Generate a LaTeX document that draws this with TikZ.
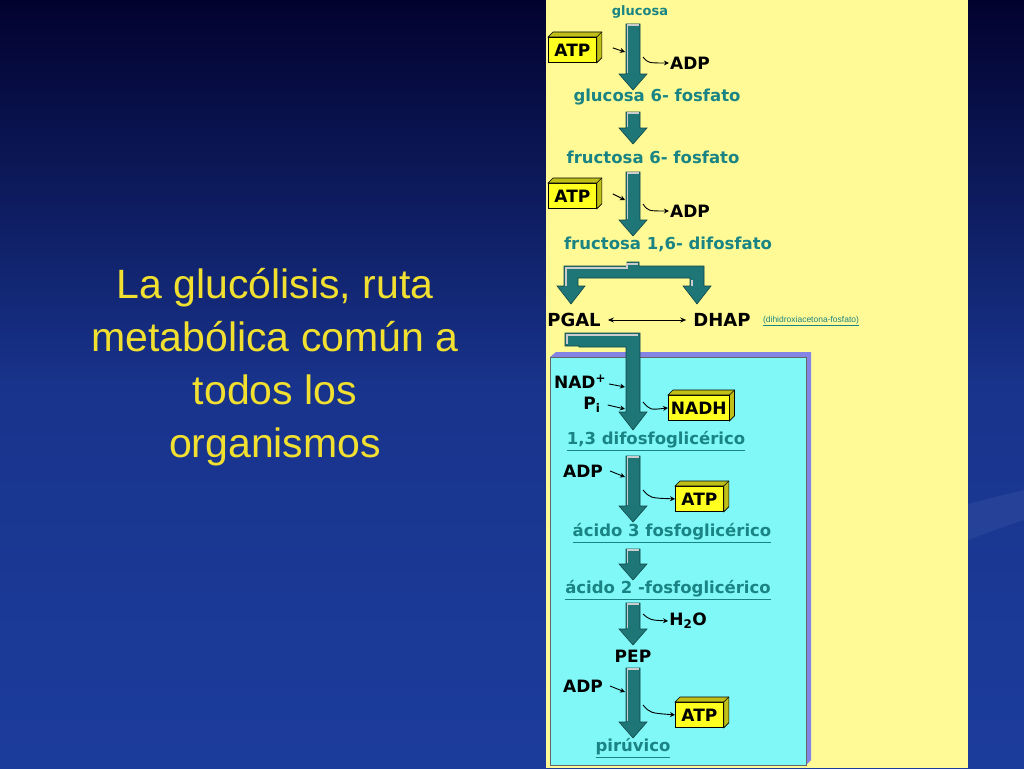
\documentclass[tikz,border=0pt]{standalone}
\usepackage{fontspec}
\setmainfont{Liberation Sans}
\newfontfamily\dv{DejaVu Sans}
\usetikzlibrary{arrows.meta}
\definecolor{bgtop}{HTML}{02022E}
\definecolor{bgbot}{HTML}{1C3C9C}
\definecolor{titley}{HTML}{F2E030}
\definecolor{panely}{HTML}{FFFA96}
\definecolor{panelc}{HTML}{80F8F8}
\definecolor{purp}{HTML}{8484E4}
\definecolor{arrteal}{HTML}{1E7676}
\definecolor{txtteal}{HTML}{1A8484}
\definecolor{boxy}{HTML}{FFFF20}
\newcommand\bigarr[3]{%
 \filldraw[fill=arrteal,draw=arrteal!60!black,line width=0.6] ({#1-7},{#2}) -- ({#1+7},{#2}) -- ({#1+7},{#3-16}) -- ({#1+14},{#3-16}) -- ({#1},{#3}) -- ({#1-14},{#3-16}) -- ({#1-7},{#3-16}) -- cycle;
 \draw[gray!40,line width=1.6] ({#1-5.5},{#3-17}) -- ({#1-5.5},{#2+1}) -- ({#1+6},{#2+1});}
\newcommand\tdbox[4]{%
 \node[box,anchor=north west] (#1) at (#2,#3) {#4};
 \filldraw[fill=boxy!75!black,draw=black,line width=0.6] (#1.north west) -- ++(5,-5) -- ([shift={(5,-5)}]#1.north east) -- ([shift={(5,-5)}]#1.south east) -- (#1.south east) -- (#1.north east) -- cycle;
 \draw[line width=0.6] (#1.north east) -- ++(5,-5);}
\tikzset{
 lab/.style={font=\dv\bfseries\fontsize{16.5}{18}\selectfont,text=txtteal,inner sep=1pt},
 ulab/.style={lab},
 blk/.style={font=\dv\bfseries\fontsize{17}{19}\selectfont,text=black,inner sep=1pt},
 box/.style={draw=black,line width=0.8,fill=boxy,font=\dv\bfseries\fontsize{17}{19}\selectfont,inner sep=2.5pt,minimum height=25,minimum width=48},
 sm/.style={-{Stealth[length=5,width=5]},line width=0.9},
 ttl/.style={text=titley,font=\fontsize{41}{53}\selectfont,align=center}
}
\newcommand\ul[1]{\underline{#1}}
\begin{document}
\begin{tikzpicture}[x=1pt,y=-1pt]
\useasboundingbox (0,0) rectangle (1024,768);
\shade[top color=bgtop,bottom color=bgbot,middle color=bgbot!85!bgtop] (0,0) rectangle (1024,768);
\fill[bgbot!80!white,opacity=0.25] (820,560) .. controls (900,520) and (980,500) .. (1024,490) -- (1024,520) .. controls (960,540) and (880,580) .. (820,600) -- cycle;
\node[ttl] (title) at (275,367) {La glucólisis, ruta\\metabólica común a\\todos los\\organismos};
% panels
\fill[panely] (546,0) rectangle (968,768);
\fill[purp] (556,352) -- (811,352) -- (811,760) -- (806,765) -- (806,357) -- (550,357) -- cycle;
\fill[panelc] (550,357) rectangle (806,765);
\draw[black!60,line width=0.6] (550,357) rectangle (806,765);
% top part
\node[lab,font=\dv\bfseries\fontsize{13}{15}\selectfont] (glu) at (640,12) {glucosa};
\bigarr{633}{24}{90}
\tdbox{atp1}{548}{37}{ATP}
\node[blk] (adp1) at (690,63) {ADP};
\coordinate (a1) at (625,52); \coordinate (b1) at (643,57);
\draw[sm] (atp1.east) ++(16,-2) -- (a1);
\draw[sm] (b1) .. controls (648,63) .. (adp1.west);
\node[lab] (g6p) at (657,97) {glucosa 6- fosfato};
\bigarr{633}{112}{144}
\node[lab] (f6p) at (653,157) {fructosa 6- fosfato};
\bigarr{633}{172}{236}
\tdbox{atp2}{548}{183}{ATP}
\node[blk] (adp2) at (690,211) {ADP};
\coordinate (a2) at (625,200); \coordinate (b2) at (643,204);
\draw[sm] (atp2.east) ++(16,-2) -- (a2);
\draw[sm] (b2) .. controls (648,211) .. (adp2.west);
\node[lab] (f16) at (668,244) {fructosa 1,6- difosfato};
% split
\filldraw[fill=arrteal,draw=arrteal!60!black,line width=0.6] (627,262) -- (639,262) -- (639,266) -- (704,266) -- (704,286) -- (711,286) -- (697,304) -- (683,286) -- (690,286) -- (690,278) -- (578,278) -- (578,286) -- (585,286) -- (571,304) -- (557,286) -- (564,286) -- (564,266) -- (627,266) -- cycle;
\draw[gray!40,line width=1.6] (566,286) -- (566,268) -- (627,268) -- (627,264) -- (638,264);
\draw[gray!40,line width=1.6] (692,286) -- (692,280);
\node[blk,font=\dv\bfseries\fontsize{18}{20}\selectfont] (pgal) at (574,320) {PGAL};
\node[blk,font=\dv\bfseries\fontsize{18}{20}\selectfont] (dhap) at (722,320) {DHAP};
\draw[{Stealth[length=6,width=5]}-{Stealth[length=6,width=5]},line width=0.9] (pgal.east) ++(6,0) -- ([xshift=-6]dhap.west);
\node[text=txtteal,font=\fontsize{8.5}{9}\selectfont,inner sep=1pt] (dhn) at (811,321) {\ul{(dihidroxiacetona-fosfato)}};
% PGAL pipe
\filldraw[fill=arrteal,draw=arrteal!60!black,line width=0.6] (565,346) -- (565,333) -- (640,333) -- (640,412) -- (647,412) -- (633,430) -- (619,412) -- (626,412) -- (626,347) -- (579,347) -- (579,346) -- cycle;
\draw[gray!40,line width=1.6] (567,344) -- (567,335) -- (638,335);
% cyan part
\node[blk] (nad) at (580,382) {NAD\textsuperscript{+}};
\node[blk] (pi) at (592,405) {P\textsubscript{i}};
\coordinate (a3) at (625,387); \coordinate (a4) at (625,409); \coordinate (b3) at (643,402);
\draw[sm] (nad.east) ++(2,2) -- (a3);
\draw[sm] (pi.east) ++(6,0) -- (a4);
\tdbox{nadh}{668}{395}{NADH}
\draw[sm] (b3) .. controls (650,410) .. (nadh.west);
\node[ulab] (dfg) at (656,441) {\ul{1,3 difosfoglicérico}};
\bigarr{633}{456}{522}
\node[blk] (adp3) at (583,471) {ADP};
\coordinate (a5) at (625,477); \coordinate (b5) at (643,490);
\draw[sm] (adp3.east) ++(6,0) -- (a5);
\tdbox{atp3}{675}{486}{ATP}
\draw[sm] (b5) .. controls (650,498) .. (atp3.west);
\node[ulab] (a3f) at (672,533) {\ul{ácido 3 fosfoglicérico}};
\bigarr{633}{549}{580}
\node[ulab] (a2f) at (668,590) {\ul{ácido 2 -fosfoglicérico}};
\bigarr{633}{603}{645}
\coordinate (b6) at (643,614);
\node[blk] (h2o) at (688,621) {H\textsubscript{2}O};
\draw[sm] (b6) .. controls (650,620) .. (h2o.west);
\node[blk] (pep) at (633,656) {PEP};
\bigarr{633}{668}{738}
\node[blk] (adp4) at (583,686) {ADP};
\coordinate (a7) at (625,692); \coordinate (b7) at (643,705);
\draw[sm] (adp4.east) ++(6,0) -- (a7);
\tdbox{atp4}{675}{702}{ATP}
\draw[sm] (b7) .. controls (650,713) .. (atp4.west);
\node[ulab] (pir) at (633,748) {\ul{pirúvico}};
\end{tikzpicture}
\end{document}
